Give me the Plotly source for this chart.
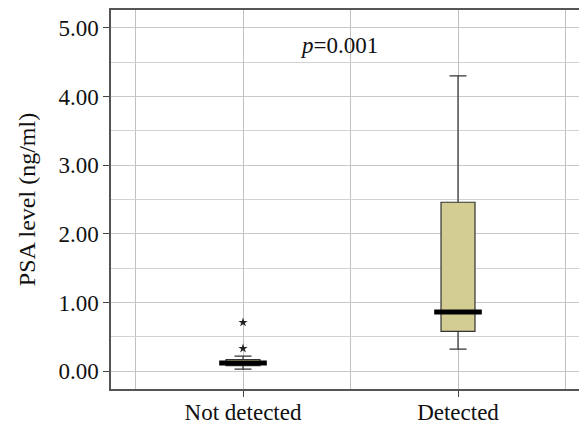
import plotly.graph_objects as go

categories = ["Not detected", "Detected"]
positions = [0, 1]
q1 = [0.08, 0.58]
median = [0.12, 0.86]
q3 = [0.17, 2.46]
lower_fence = [0.03, 0.32]
upper_fence = [0.22, 4.30]
outlier_x = [0, 0]
outlier_y = [0.71, 0.33]
y_ticks = [0, 1, 2, 3, 4, 5]
y_tick_labels = ["0.00", "1.00", "2.00", "3.00", "4.00", "5.00"]

FONT = "Liberation Serif"
fig = go.Figure()

for i in range(len(categories)):
    fig.add_trace(go.Box(
        x=[positions[i]], q1=[q1[i]], median=[median[i]], q3=[q3[i]],
        lowerfence=[lower_fence[i]], upperfence=[upper_fence[i]],
        width=0.158, whiskerwidth=0.5,
        fillcolor="#d3cd94", line=dict(color="#333333", width=1.2),
        boxpoints=False, showlegend=False, hoverinfo="skip",
    ))

# thick median bars
fig.add_trace(go.Scatter(
    x=positions, y=median, mode="markers",
    marker=dict(symbol="line-ew", size=34, line=dict(color="black", width=5)),
    showlegend=False, hoverinfo="skip",
))

# outliers
fig.add_trace(go.Scatter(
    x=outlier_x, y=outlier_y, mode="markers",
    marker=dict(symbol="star", size=7, color="#222222"),
    showlegend=False, hoverinfo="skip",
))

fig.add_annotation(
    x=0.447, y=4.75, xref="x", yref="y", text="<i>p</i>=0.001",
    showarrow=False, font=dict(family=FONT, size=23, color="#111111"),
)

fig.update_layout(
    width=579, height=417,
    margin=dict(l=103, r=0, t=2, b=36, autoexpand=False),
    paper_bgcolor="white", plot_bgcolor="white",
    font=dict(family=FONT, size=23, color="#111111"),
)
fig.update_xaxes(
    range=[-0.614, 1.6], tickvals=positions, ticktext=categories,
    ticks="outside", ticklen=6, tickcolor="#444444", ticklabelstandoff=-4,
    showgrid=True, gridcolor="#c0c0c0", gridwidth=1,
    minor=dict(dtick=0.5, tick0=0, showgrid=True, gridcolor="#c0c0c0", ticks=""),
    showline=True, linecolor="#555555", linewidth=1.5, mirror=True,
    zeroline=False, tickfont=dict(size=23), automargin=False,
)
fig.update_yaxes(
    range=[-0.26, 5.26], tickvals=y_ticks, ticktext=y_tick_labels,
    ticks="outside", ticklen=6, tickcolor="#444444",
    showgrid=True, gridcolor="#c8c8c8", gridwidth=1,
    minor=dict(dtick=0.5, tick0=0, showgrid=True, gridcolor="#d2d2d2", ticks=""),
    showline=True, linecolor="#555555", linewidth=1.5, mirror=False,
    zeroline=False, tickfont=dict(size=23), automargin=False,
    title=dict(text="PSA level (ng/ml)", font=dict(size=24), standoff=16),
)

fig.write_html("out.html")
